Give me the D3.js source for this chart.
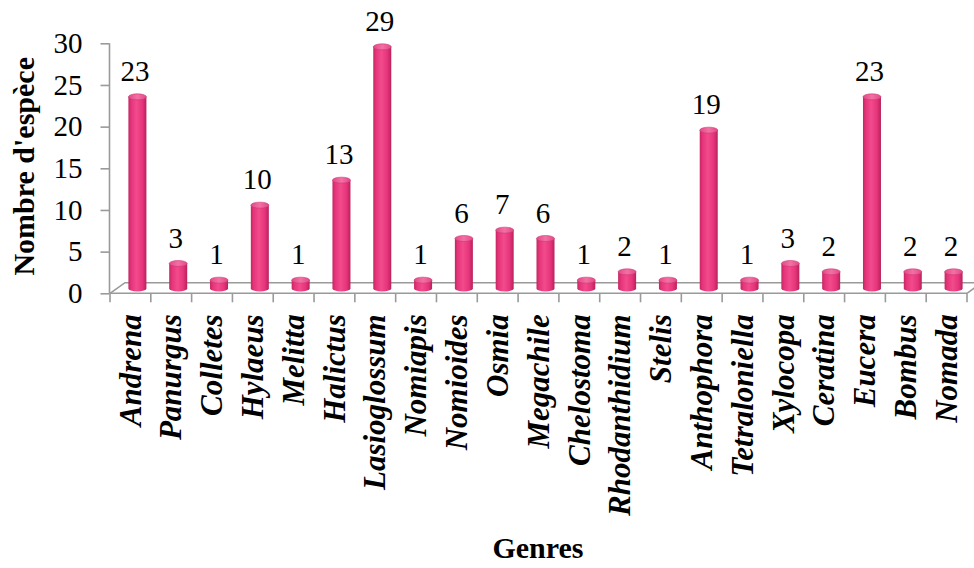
<!DOCTYPE html>
<html>
<head>
<meta charset="utf-8">
<script src="https://cdn.jsdelivr.net/npm/d3@7"></script>
<style>
  html, body { margin: 0; padding: 0; background: #fff; }
  svg { display: block; }
  text { font-family: "Liberation Serif", "Times New Roman", serif; fill: #000; }
</style>
</head>
<body>
<svg id="chart" width="974" height="568"></svg>
<script>
// Number of species per bee genus
const genres = ["Andrena", "Panurgus", "Colletes", "Hylaeus", "Melitta", "Halictus",
  "Lasioglossum", "Nomiapis", "Nomioides", "Osmia", "Megachile", "Chelostoma",
  "Rhodanthidium", "Stelis", "Anthophora", "Tetraloniella", "Xylocopa", "Ceratina",
  "Eucera", "Bombus", "Nomada"];
const especes = [23, 3, 1, 10, 1, 13, 29, 1, 6, 7, 6, 1, 2, 1, 19, 1, 3, 2, 23, 2, 2];
const yTicks = [0, 5, 10, 15, 20, 25, 30];

const svg = d3.select("#chart");

// front plane of the 3-D plot area
const plotLeft = 110, plotRight = 967, plotBottom = 293.3, plotTop = 43.3;
// depth of the floor (oblique projection) and position of the bars within it
const depth = { dx: 15, dy: -10.6 };
const barPlane = { dx: 7, dy: -4.8 };

const x = d3.scaleBand().domain(genres).range([plotLeft, plotRight]).padding(0);
const y = d3.scaleLinear().domain([0, 30]).range([plotBottom, plotTop]);

const axisColor = "#9a9a9a";

// gradient giving the columns a cylindrical look
const defs = svg.append("defs");
const grad = defs.append("linearGradient").attr("id", "cyl").attr("x1", "0").attr("x2", "1");
[[0, "#c42660"], [0.15, "#e5347a"], [0.45, "#f24b8c"], [0.78, "#e6347b"], [1, "#b8225a"]]
  .forEach(([o, c]) => grad.append("stop").attr("offset", o).attr("stop-color", c));
const gradTop = defs.append("linearGradient").attr("id", "cylTop").attr("x1", "0").attr("x2", "1");
[[0, "#e04a88"], [0.5, "#f370a3"], [1, "#e04a88"]]
  .forEach(([o, c]) => gradTop.append("stop").attr("offset", o).attr("stop-color", c));

// floor of the 3-D area
const floor = svg.append("g").attr("fill", "none").attr("stroke", axisColor).attr("stroke-width", 1.6);
floor.append("path")
  .attr("d", `M${plotLeft},${plotBottom} L${plotLeft + depth.dx},${plotBottom + depth.dy} L${976},${plotBottom + depth.dy}`);
floor.append("path")
  .attr("d", `M${plotRight},${plotBottom} L${plotRight + depth.dx},${plotBottom + depth.dy}`);

// Y axis
const yAxis = d3.axisLeft(y).tickValues(yTicks).tickSize(9).tickPadding(18).tickFormat(d3.format("d"));
const gy = svg.append("g").attr("transform", `translate(${plotLeft - 0.5},0)`).call(yAxis);
gy.select(".domain").attr("stroke", axisColor).attr("stroke-width", 1.6).attr("d", `M0,${plotTop}V${plotBottom}`);
gy.selectAll(".tick line").attr("stroke", axisColor).attr("stroke-width", 1.6);
gy.selectAll(".tick text").attr("font-size", 29).attr("fill", "#000");

// X axis: line and ticks at category boundaries
const gx = svg.append("g");
gx.append("line").attr("x1", plotLeft).attr("x2", plotRight).attr("y1", plotBottom).attr("y2", plotBottom)
  .attr("stroke", axisColor).attr("stroke-width", 1.6);
const bounds = genres.map(g => x(g)).concat([x(genres[genres.length - 1]) + x.bandwidth()]);
gx.selectAll("line.b").data(bounds).join("line").attr("class", "b")
  .attr("x1", d => d).attr("x2", d => d).attr("y1", plotBottom).attr("y2", plotBottom + 9)
  .attr("stroke", axisColor).attr("stroke-width", 1.6);

// category labels
const xAxis = d3.axisBottom(x).tickSize(0).tickPadding(0);
const gl = svg.append("g").attr("transform", `translate(0,${plotBottom})`).call(xAxis);
gl.select(".domain").remove();
gl.selectAll(".tick text")
  .attr("font-size", 31).attr("font-weight", "bold").attr("font-style", "italic")
  .attr("fill", "#000")
  .attr("text-anchor", "end").attr("transform", "rotate(-90)")
  .attr("x", -21).attr("y", 0).attr("dy", "0.33em");

// columns
const bw = 18, ry = 3;
const bars = svg.append("g").selectAll("g").data(genres.map((g, i) => ({ g, v: especes[i] }))).join("g");
bars.each(function (d) {
  const cx = x(d.g) + x.bandwidth() / 2 + barPlane.dx;
  const yb = y(0) + barPlane.dy;
  const yt = y(d.v) + barPlane.dy;
  const sel = d3.select(this);
  sel.append("path")
    .attr("d", `M${cx - bw / 2},${yt} L${cx - bw / 2},${yb} A${bw / 2},${ry} 0 0 0 ${cx + bw / 2},${yb} L${cx + bw / 2},${yt} Z`)
    .attr("fill", "url(#cyl)");
  sel.append("ellipse").attr("cx", cx).attr("cy", yt).attr("rx", bw / 2).attr("ry", ry)
    .attr("fill", "url(#cylTop)").attr("stroke", "#d03470").attr("stroke-width", 0.6);
  sel.append("text").attr("x", cx - 2.5).attr("y", yt - 16)
    .attr("text-anchor", "middle").attr("font-size", 29).text(d.v);
});

// axis titles
svg.append("text").attr("transform", `translate(34,${(plotTop + plotBottom) / 2 - 2}) rotate(-90)`)
  .attr("text-anchor", "middle").attr("font-size", 30).attr("font-weight", "bold")
  .text("Nombre d'espèce");
svg.append("text").attr("x", 538).attr("y", 558)
  .attr("text-anchor", "middle").attr("font-size", 30).attr("font-weight", "bold")
  .text("Genres");
</script>
</body>
</html>
